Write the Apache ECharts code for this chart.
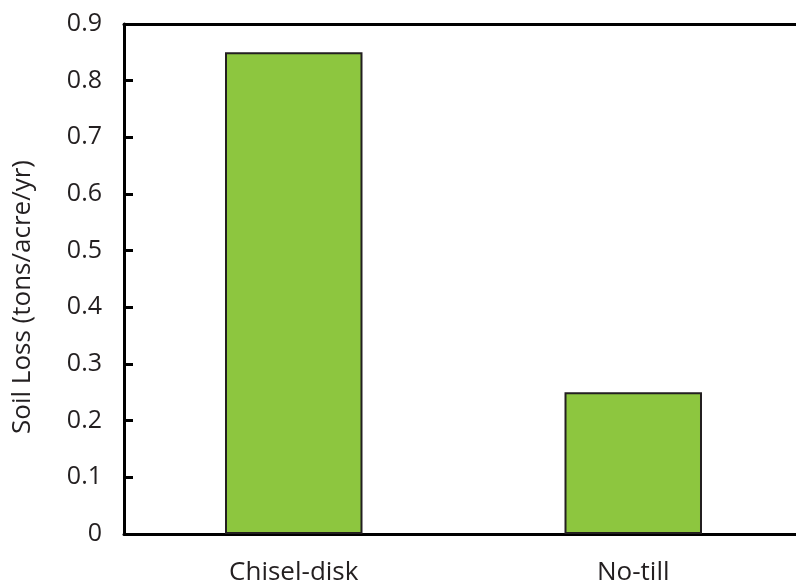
<!DOCTYPE html>
<html>
<head>
<meta charset="utf-8">
<script src="https://cdn.jsdelivr.net/npm/echarts@6/dist/echarts.min.js"></script>
<style>html,body{margin:0;padding:0;background:#fff;}#c{width:796px;height:588px;}</style>
</head>
<body>
<div id="c"></div>
<script>
var categories = ['Chisel-disk', 'No-till'];
var soilLoss = [0.85, 0.25];
var yTicks = [0, 0.1, 0.2, 0.3, 0.4, 0.5, 0.6, 0.7, 0.8, 0.9];
var yTitle = 'Soil Loss (tons/acre/yr)';

var chart = echarts.init(document.getElementById('c'));
var font = '"Open Sans", "Noto Sans", sans-serif';
chart.setOption({
  animation: false,
  grid: {
    left: 124, top: 24, width: 679, height: 510,
    outerBoundsMode: 'none',
    containLabel: false,
    show: false
  },
  xAxis: [{
    type: 'category',
    data: categories,
    axisLine: { lineStyle: { color: '#000', width: 3 } },
    axisTick: { show: false },
    axisLabel: { color: '#231f20', fontSize: 26, fontFamily: font, margin: 26 }
  }, {
    type: 'category',
    position: 'top',
    data: categories,
    axisLine: { show: true, lineStyle: { color: '#000', width: 3 } },
    axisTick: { show: false },
    axisLabel: { show: false }
  }],
  yAxis: {
    type: 'value',
    min: yTicks[0], max: yTicks[yTicks.length - 1], interval: 0.1,
    splitLine: { show: false },
    axisLine: { show: true, lineStyle: { color: '#000', width: 3 } },
    axisTick: { show: true, inside: true, length: 9, lineStyle: { color: '#000', width: 3 } },
    axisLabel: {
      color: '#231f20', fontSize: 25, fontFamily: font, margin: 22,
      formatter: function (v) { return String(Math.round(v * 10) / 10); }
    }
  },
  graphic: [{
    type: 'text', left: 10, top: 160,
    rotation: Math.PI / 2,
    style: { text: yTitle, fill: '#231f20', fontSize: 26, fontFamily: font }
  }],
  series: [{
    type: 'bar',
    data: soilLoss,
    barWidth: '40.5%',
    itemStyle: { color: '#8dc63f', borderColor: '#231f20', borderWidth: 2 }
  }]
});
</script>
</body>
</html>
